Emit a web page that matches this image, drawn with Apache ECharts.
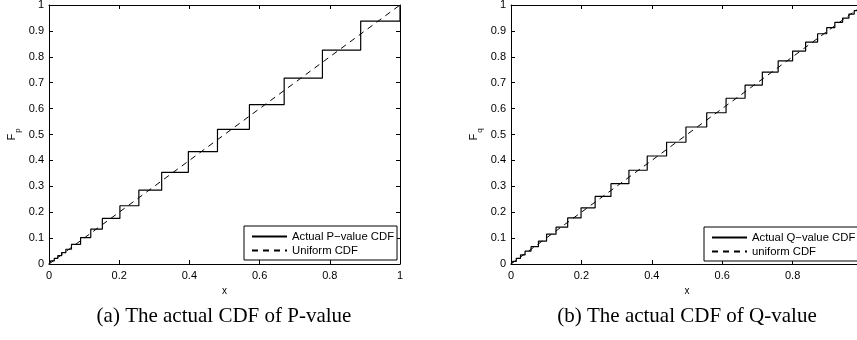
<!DOCTYPE html>
<html>
<head>
<meta charset="utf-8">
<script src="https://cdn.jsdelivr.net/npm/echarts@6/dist/echarts.min.js"></script>
<style>
  html, body { margin: 0; padding: 0; background: #fff; }
  #chart { width: 857px; height: 340px; }
</style>
</head>
<body>
<div id="chart"></div>
<script>
// Empirical CDF of the P-values: jump locations and the level reached at each jump
const pJumps  = [0, 0.005, 0.015, 0.025, 0.036, 0.048, 0.064, 0.090, 0.119, 0.152, 0.202, 0.256, 0.321, 0.397, 0.480, 0.571, 0.670, 0.779, 0.888, 1.0];
const pLevels = [0, 0.012, 0.022, 0.032, 0.044, 0.057, 0.076, 0.102, 0.135, 0.176, 0.225, 0.285, 0.354, 0.434, 0.520, 0.615, 0.718, 0.826, 0.938, 1.0];

// Empirical CDF of the Q-values
const qJumps  = [0, 0.005, 0.015, 0.027, 0.040, 0.057, 0.078, 0.101, 0.128, 0.161, 0.199, 0.239, 0.284, 0.335, 0.387, 0.442, 0.497, 0.556, 0.611, 0.665, 0.714, 0.759, 0.800, 0.837, 0.871, 0.897, 0.920, 0.942, 0.960, 0.975, 0.988, 1.0];
const qLevels = [0, 0.010, 0.022, 0.035, 0.050, 0.067, 0.088, 0.115, 0.142, 0.178, 0.217, 0.261, 0.310, 0.362, 0.417, 0.470, 0.529, 0.584, 0.640, 0.691, 0.741, 0.784, 0.822, 0.857, 0.889, 0.913, 0.933, 0.949, 0.965, 0.978, 0.990, 1.0];

// Reference uniform CDF, F(x) = x
const uniformX = [0, 1];
const uniformF = [0, 1];

const seriesNames = ['Actual P\u2212value CDF', 'Uniform CDF', 'Actual Q\u2212value CDF', 'uniform CDF'];
const captions = ['(a) The actual CDF of P-value', '(b) The actual CDF of Q-value'];
const yNames = [['F', 'p'], ['F', 'q']];

const zip = (xs, ys) => xs.map((x, i) => [x, ys[i]]);

const SANS = 'Liberation Sans';
const tickFont = { fontFamily: SANS, fontSize: 11, color: '#000' };

// The second panel runs slightly past the right edge of the page
const grids = [
  { left: 49, top: 5, width: 351, height: 259 },
  { left: 511, top: 5, width: 352, height: 259 }
];

function xAxes(gi) {
  const base = {
    type: 'value', gridIndex: gi, min: 0, max: 1, interval: 0.2,
    splitLine: { show: false },
    axisLine: { show: true, onZero: false, lineStyle: { color: '#000', width: 1 } },
    axisTick: { show: true, inside: true, length: 4, lineStyle: { color: '#000' } }
  };
  return [
    Object.assign({}, base, {
      position: 'bottom',
      axisLabel: Object.assign({ margin: 6 }, tickFont),
      name: 'x', nameLocation: 'middle', nameGap: 19,
      nameTextStyle: { fontFamily: SANS, fontSize: 10, color: '#000' }
    }),
    Object.assign({}, base, { position: 'top', axisLabel: { show: false } })
  ];
}

function yAxes(gi) {
  const base = {
    type: 'value', gridIndex: gi, min: 0, max: 1, interval: 0.1,
    splitLine: { show: false },
    axisLine: { show: true, onZero: false, lineStyle: { color: '#000', width: 1 } },
    axisTick: { show: true, inside: true, length: 4, lineStyle: { color: '#000' } }
  };
  const nm = yNames[gi];
  return [
    Object.assign({}, base, {
      position: 'left',
      axisLabel: Object.assign({ margin: 5 }, tickFont),
      name: '{f|' + nm[0] + '}{s|' + nm[1] + '}',
      nameLocation: 'middle', nameRotate: 90, nameGap: 27,
      nameTextStyle: {
        rich: {
          f: { fontFamily: SANS, fontSize: 11, color: '#000', verticalAlign: 'top', lineHeight: 16 },
          s: { fontFamily: SANS, fontSize: 8, color: '#000', verticalAlign: 'bottom', lineHeight: 16, padding: [0, 0, 0, 1] }
        }
      }
    }),
    Object.assign({}, base, { position: 'right', axisLabel: { show: false } })
  ];
}

function legendFor(i, left, top) {
  return {
    show: true, orient: 'vertical', left: left, top: top,
    data: [seriesNames[2 * i], seriesNames[2 * i + 1]],
    backgroundColor: '#fff', borderColor: '#000', borderWidth: 1, borderRadius: 0,
    padding: [4, 3, 3, 7], itemGap: 1, itemWidth: 35, itemHeight: 10,
    selectedMode: false,
    itemStyle: { opacity: 0 },
    textStyle: { fontFamily: SANS, fontSize: 11.3, color: '#000', lineHeight: 13 }
  };
}

function stepSeries(name, gi, xs, ys) {
  return {
    name: name, type: 'line', step: 'end', xAxisIndex: 2 * gi, yAxisIndex: 2 * gi,
    data: zip(xs, ys), symbol: 'none', silent: true, animation: false,
    itemStyle: { color: '#000' },
    lineStyle: { color: '#000', width: 1.2, type: 'solid' }
  };
}

function uniformSeries(name, gi) {
  return {
    name: name, type: 'line', xAxisIndex: 2 * gi, yAxisIndex: 2 * gi,
    data: zip(uniformX, uniformF), symbol: 'none', silent: true, animation: false,
    itemStyle: { color: '#000' },
    lineStyle: { color: '#000', width: 1, type: [6, 5] }
  };
}

const chart = echarts.init(document.getElementById('chart'), null, { renderer: 'canvas' });
chart.setOption({
  backgroundColor: '#fff',
  animation: false,
  grid: grids.map(g => Object.assign({ containLabel: false, outerBoundsMode: 'none' }, g)),
  xAxis: xAxes(0).concat(xAxes(1)),
  yAxis: yAxes(0).concat(yAxes(1)),
  legend: [legendFor(0, 244, 226), legendFor(1, 704, 227)],
  series: [
    stepSeries(seriesNames[0], 0, pJumps, pLevels),
    uniformSeries(seriesNames[1], 0),
    stepSeries(seriesNames[2], 1, qJumps, qLevels),
    uniformSeries(seriesNames[3], 1)
  ],
  graphic: [
    { type: 'text', x: 224, y: 316, style: { text: captions[0], align: 'center', verticalAlign: 'middle', fill: '#000', font: '21px "Liberation Serif"' } },
    { type: 'text', x: 687, y: 316, style: { text: captions[1], align: 'center', verticalAlign: 'middle', fill: '#000', font: '21px "Liberation Serif"' } }
  ]
});
</script>
</body>
</html>
